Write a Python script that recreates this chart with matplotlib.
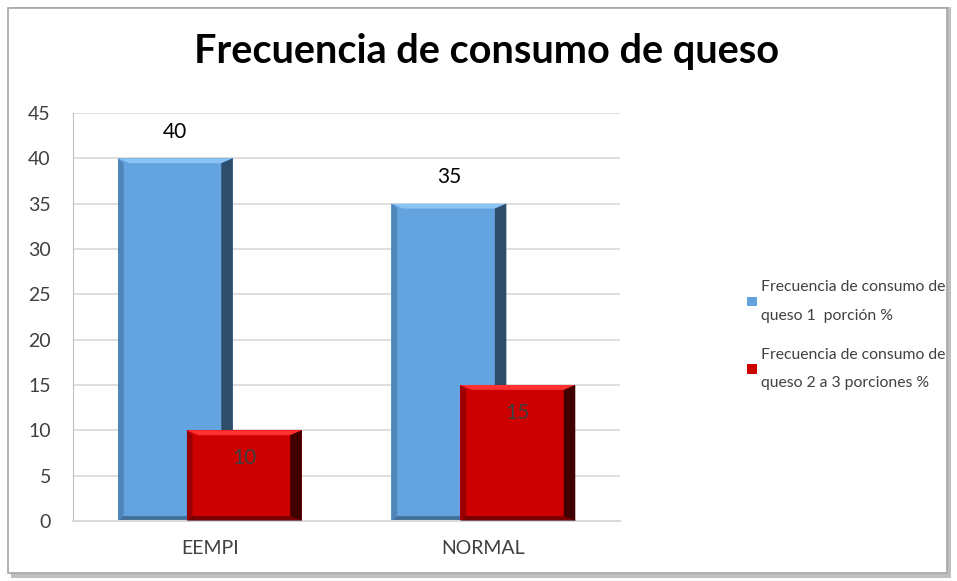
import matplotlib
matplotlib.use('Agg')
from matplotlib import pyplot as plt
from matplotlib.patches import Rectangle, Polygon
import numpy as np

categories = ["EEMPI", "NORMAL"]
una_porcion = [40, 35]
dos_tres_porciones = [10, 15]
series_names = ["Frecuencia de consumo de\nqueso 1  porción %",
                "Frecuencia de consumo de\nqueso 2 a 3 porciones %"]
title = "Frecuencia de consumo de queso"

plt.rcParams['font.family'] = ['Lato', 'DejaVu Sans']


def bevel(ax, bars, light, dark, z, depth=0.012):
    # simple bevel on the edges of each bar
    for b in bars:
        x0, y0 = b.get_x(), 0
        w, h = b.get_width(), b.get_height()
        dx = w * 0.10
        dy = 45 * depth
        top = Polygon([(x0, h), (x0 + w, h), (x0 + w - dx, h - dy), (x0 + dx, h - dy)],
                      closed=True, color=light, zorder=z, lw=0)
        right = Polygon([(x0 + w, h), (x0 + w, y0), (x0 + w - dx, y0 + dy), (x0 + w - dx, h - dy)],
                        closed=True, color=dark, zorder=z, lw=0)
        left = Polygon([(x0, h), (x0, y0), (x0 + dx * 0.5, y0 + dy), (x0 + dx * 0.5, h - dy)],
                       closed=True, color=dark, alpha=0.35, zorder=z, lw=0)
        bottom = Polygon([(x0, y0), (x0 + w, y0), (x0 + w - dx, y0 + dy), (x0 + dx * 0.5, y0 + dy)],
                         closed=True, color=dark, alpha=0.6, zorder=z, lw=0)
        for p in (top, right, left, bottom):
            ax.add_patch(p)


fig = plt.figure(figsize=(9.57, 5.81), dpi=100)
ax = fig.add_axes([0.0763, 0.1033, 0.5717, 0.7022])

# outer frame with shadow
fig.patches.append(Rectangle((0.012, 0.006), 0.982, 0.982, transform=fig.transFigure,
                             facecolor='#bfbfbf', edgecolor='none', zorder=-2))
fig.patches.append(Rectangle((0.008, 0.014), 0.982, 0.972, transform=fig.transFigure,
                             facecolor='white', edgecolor='#a6a6a6', lw=1.2, zorder=-1))

x = np.arange(len(categories))
w = 0.42
off = 0.126
b1 = ax.bar(x - off, una_porcion, w, color='#62a3e0', zorder=2, label=series_names[0])
b2 = ax.bar(x + off, dos_tres_porciones, w, color='#cc0000', zorder=2.5, label=series_names[1])
bevel(ax, b1, '#8cc3f5', '#2e4d6b', 2.1)
bevel(ax, b2, '#ff3030', '#400000', 2.6)

for i, v in enumerate(una_porcion):
    ax.text(x[i] - off, v + 2.9, str(v), ha='center', va='center', fontsize=15, color='black')
for i, v in enumerate(dos_tres_porciones):
    ax.text(x[i] + off, v - 3.1, str(v), ha='center', va='center', fontsize=15, color='#404040', zorder=5)

ax.set_xlim(-0.5, 1.5)
ax.set_ylim(0, 45)
ax.set_yticks(range(0, 46, 5))
ax.set_xticks(x)
ax.set_xticklabels(categories)
ax.tick_params(axis='both', length=0, labelsize=14, colors='#404040')
ax.tick_params(axis='x', pad=14)
ax.tick_params(axis='y', pad=16)
ax.grid(axis='y', color='#d9d9d9', lw=1.2, zorder=0)
ax.set_axisbelow(True)
for s in ['top', 'right']:
    ax.spines[s].set_visible(False)
ax.spines['left'].set_color('#bfbfbf')
ax.spines['bottom'].set_color('#d9d9d9')
ax.spines['bottom'].set_linewidth(1.5)

fig.text(0.508, 0.912, title, ha='center', va='center', fontsize=28.5, fontweight='bold')

leg = fig.legend(handles=[b1, b2], loc='center left', bbox_to_anchor=(0.781, 0.423),
                 frameon=False, handlelength=0.6, handleheight=0.6,
                 handletextpad=0.25, labelspacing=1.6, labelcolor='#404040',
                 borderpad=0, borderaxespad=0, fontsize=11.3)
for t in leg.get_texts():
    t.set_linespacing(2.3)

fig.savefig('out.png', dpi=100)
